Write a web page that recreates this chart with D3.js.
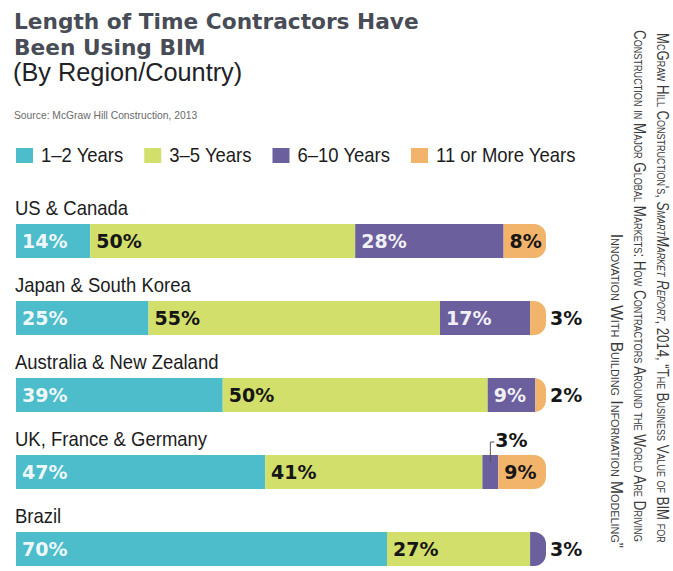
<!DOCTYPE html>
<html>
<head>
<meta charset="utf-8">
<script src="https://cdn.jsdelivr.net/npm/d3@7"></script>
<style>
  html, body { margin: 0; padding: 0; background: #fff; }
  svg { display: block; }
</style>
</head>
<body>
<svg id="chart" width="673" height="571"></svg>
<script>
// Regions surveyed
const categories = [
  "US & Canada",
  "Japan & South Korea",
  "Australia & New Zealand",
  "UK, France & Germany",
  "Brazil"
];
// Experience bands (legend order)
const seriesNames = ["1–2 Years", "3–5 Years", "6–10 Years", "11 or More Years"];
// Share of contractors (%) per region, one array per band
const yrs1to2   = [14, 25, 39, 47, 70];
const yrs3to5   = [50, 55, 50, 41, 27];
const yrs6to10  = [28, 17,  9,  3,  3];
const yrs11plus = [ 8,  3,  2,  9,  0];

const seriesKeys = ["a", "b", "c", "d"];
const rows = categories.map((c, i) => ({
  region: c,
  a: yrs1to2[i], b: yrs3to5[i], c: yrs6to10[i], d: yrs11plus[i]
}));

const svg = d3.select("#chart");

const color = d3.scaleOrdinal()
  .domain(seriesKeys)
  .range(["#4dbdcb", "#d3df6b", "#6b5f9e", "#f2b46b"]);
const labelFill = d3.scaleOrdinal()
  .domain(seriesKeys)
  .range(["#ffffff", "#161616", "#ffffff", "#161616"]);

const x = d3.scaleLinear().domain([0, 100]).range([16, 546]);
const y = d3.scaleBand().domain(categories).range([224, 566])
  .paddingInner(43 / 77).paddingOuter(0);

// condensed-looking label text: taller glyphs squeezed horizontally
const narrowFont = "Liberation Sans, Arial, sans-serif";
const squeeze = 0.925;
function narrowText(parent, px, py, str) {
  return parent.append("text")
    .attr("transform", `translate(${px},${py}) scale(${squeeze},1)`)
    .attr("font-family", narrowFont)
    .attr("font-size", 20).attr("fill", "#1c1c1c")
    .text(str);
}

// ---- Title block ----
const titleColor = "#474c57";
svg.append("text").attr("x", 14).attr("y", 29)
  .attr("font-family", "DejaVu Sans").attr("font-weight", "bold")
  .attr("font-size", 21.7).attr("fill", titleColor)
  .text("Length of Time Contractors Have");
svg.append("text").attr("x", 14).attr("y", 55)
  .attr("font-family", "DejaVu Sans").attr("font-weight", "bold")
  .attr("font-size", 21.7).attr("fill", titleColor)
  .text("Been Using BIM");
svg.append("text").attr("x", 13).attr("y", 81)
  .attr("font-family", "Liberation Sans, Arial, sans-serif")
  .attr("font-size", 25.3).attr("fill", "#202226")
  .text("(By Region/Country)");
svg.append("text").attr("x", 14).attr("y", 119)
  .attr("font-family", "Liberation Sans, Arial, sans-serif")
  .attr("font-size", 10.3).attr("fill", "#6a6a6a")
  .text("Source: McGraw Hill Construction, 2013");

// ---- Legend ----
const legend = svg.append("g");
let lx = 16;
seriesKeys.forEach((k, i) => {
  legend.append("rect").attr("x", lx).attr("y", 148)
    .attr("width", 17).attr("height", 15).attr("fill", color(k));
  const t = narrowText(legend, lx + 25, 162, seriesNames[i]);
  lx = lx + 25 + t.node().getComputedTextLength() * squeeze + 21;
});

// ---- Bars ----
const stacked = d3.stack().keys(seriesKeys)(rows);
const r = 12;
const defs = svg.append("defs");

const barG = svg.append("g");
categories.forEach((c, i) => {
  const y0 = y(c), h = y.bandwidth();
  const x0 = x(0), x1 = x(100);
  defs.append("clipPath").attr("id", "clip" + i)
    .append("path")
    .attr("d", `M${x0},${y0}H${x1 - r}A${r},${r} 0 0 1 ${x1},${y0 + r}` +
               `V${y0 + h - r}A${r},${r} 0 0 1 ${x1 - r},${y0 + h}H${x0}Z`);
  // region name above the bar
  narrowText(svg, 15, y0 - 9, c);
});

stacked.forEach(layer => {
  const k = layer.key;
  layer.forEach((seg, i) => {
    const v = seg[1] - seg[0];
    if (v <= 0) return;
    barG.append("rect")
      .attr("clip-path", `url(#clip${i})`)
      .attr("x", x(seg[0])).attr("y", y(categories[i]))
      .attr("width", x(seg[1]) - x(seg[0]))
      .attr("height", y.bandwidth())
      .attr("fill", color(k));
  });
});

// ---- Value labels ----
const lab = svg.append("g")
  .attr("font-family", "DejaVu Sans").attr("font-weight", "bold")
  .attr("font-size", 19);
stacked.forEach(layer => {
  const k = layer.key;
  layer.forEach((seg, i) => {
    const v = seg[1] - seg[0];
    if (v <= 0) return;
    const yc = y(categories[i]) + y.bandwidth() / 2;
    const isLast = Math.abs(seg[1] - 100) < 1e-9;
    if (v > 3) {
      lab.append("text").attr("x", x(seg[0]) + 6).attr("y", yc + 7)
        .attr("fill", labelFill(k))
        .attr("fill-opacity", labelFill(k) === "#ffffff" ? 0.92 : 1)
        .text(v + "%");
    } else if (isLast) {
      lab.append("text").attr("x", x(100) + 4).attr("y", yc + 7)
        .attr("fill", "#161616").text(v + "%");
    } else {
      // narrow middle segment: label above with a leader line
      const cx = (x(seg[0]) + x(seg[1])) / 2;
      const top = y(categories[i]);
      svg.append("path")
        .attr("d", `M${cx},${top + 7}V${top - 13}H${cx + 4}`)
        .attr("fill", "none").attr("stroke", "#555").attr("stroke-width", 1);
      lab.append("text").attr("x", cx + 5).attr("y", top - 8)
        .attr("fill", "#161616").text(v + "%");
    }
  });
});

// ---- Vertical credit line on the right edge ----
const credit = svg.append("g")
  .attr("font-family", "Liberation Sans Narrow, Arial Narrow, Liberation Sans, sans-serif")
  .attr("font-size", 16).attr("fill", "#3a3a3a")
  .style("font-variant", "small-caps");

const l1 = credit.append("text");
l1.append("tspan").text("McGraw Hill Construction's, ");
l1.append("tspan").attr("font-style", "italic").text("SmartMarket Report");
l1.append("tspan").text(", 2014, “The Business Value of BIM for");
const l2 = credit.append("text")
  .text("Construction in Major Global Markets: How Contractors Around the World Are Driving");
const l3 = credit.append("text").attr("text-anchor", "end")
  .text("Innovation With Building Information Modeling”");

const s1 = 512 / l1.node().getComputedTextLength();
const s2 = 518 / l2.node().getComputedTextLength();
const s3 = 311 / l3.node().getComputedTextLength();
l1.attr("transform", `translate(657,33) rotate(90) scale(${s1},1)`);
l2.attr("transform", `translate(634,30) rotate(90) scale(${s2},1)`);
l3.attr("transform", `translate(611,548) rotate(90) scale(${s3},1)`);
</script>
</body>
</html>
